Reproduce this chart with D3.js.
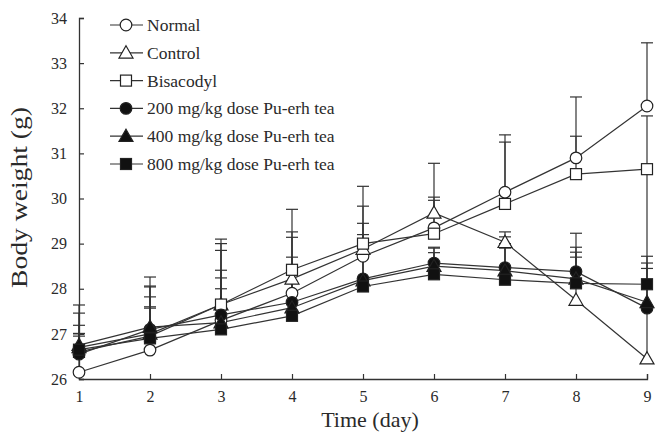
<!DOCTYPE html>
<html>
<head>
<meta charset="utf-8">
<script src="https://cdn.jsdelivr.net/npm/d3@7"></script>
<style>
  body { margin: 0; background: #fff; }
  svg { display: block; }
</style>
</head>
<body>
<div id="chart"></div>
<script>
// Body weight over time, six groups, mean with upper SD bar
var days = [1, 2, 3, 4, 5, 6, 7, 8, 9];
var yTicks = [26, 27, 28, 29, 30, 31, 32, 33, 34];

var seriesNames = ["Normal", "Control", "Bisacodyl",
    "200 mg/kg dose Pu-erh tea", "400 mg/kg dose Pu-erh tea", "800 mg/kg dose Pu-erh tea"];
var seriesSymbols = ["circle", "triangle", "square", "circle", "triangle", "square"];
var seriesFilled = [false, false, false, true, true, true];

var normalMean    = [26.15, 26.64, 27.30, 27.90, 28.72, 29.35, 30.14, 30.90, 32.05];
var controlMean   = [26.70, 27.00, 27.65, 28.22, 28.88, 29.68, 29.03, 27.75, 26.45];
var bisacodylMean = [26.60, 26.95, 27.65, 28.42, 29.00, 29.22, 29.88, 30.54, 30.65];
var dose200Mean   = [26.55, 27.10, 27.42, 27.70, 28.22, 28.57, 28.47, 28.38, 27.57];
var dose400Mean   = [26.75, 27.15, 27.25, 27.58, 28.18, 28.50, 28.40, 28.22, 27.70];
var dose800Mean   = [26.65, 26.90, 27.10, 27.40, 28.05, 28.32, 28.20, 28.12, 28.10];

var normalSD    = [0.85, 0.93, 1.55, 1.24, 1.11, 0.68, 1.27, 1.35, 1.40];
var controlSD   = [0.94, 1.26, 1.45, 1.54, 1.39, 1.10, 0.23, 1.48, 4.15];
var bisacodylSD = [0.86, 1.11, 1.35, 0.84, 0.45, 0.74, 1.37, 0.84, 1.18];
var dose200SD   = [0.64, 0.94, 0.99, 1.00, 0.98, 0.35, 0.68, 0.54, 1.15];
var dose400SD   = [0.26, 0.67, 0.99, 0.92, 0.82, 0.40, 0.60, 0.59, 0.87];
var dose800SD   = [0.30, 0.70, 0.90, 0.90, 0.85, 0.48, 0.70, 0.58, 0.35];

var means = [normalMean, controlMean, bisacodylMean, dose200Mean, dose400Mean, dose800Mean];
var sds = [normalSD, controlSD, bisacodylSD, dose200SD, dose400SD, dose800SD];

var W = 662, H = 436;
var margin = { top: 18, right: 15, bottom: 57, left: 79 };
var width = W - margin.left - margin.right;
var height = H - margin.top - margin.bottom;

var serif = "'Liberation Serif', 'Times New Roman', serif";
var ink = "#333";

var svg = d3.select("#chart").append("svg")
    .attr("width", W)
    .attr("height", H)
    .append("g")
    .attr("transform", "translate(" + margin.left + "," + margin.top + ")");

var x = d3.scaleLinear().domain([1, 9]).range([0, width]);
var y = d3.scaleLinear().domain([26, 34]).range([height, 0]);

// Axes (ticks point inward)
var xAxis = svg.append("g")
    .attr("transform", "translate(0," + height + ")")
    .call(d3.axisBottom(x).tickValues(days).tickSize(-5).tickSizeOuter(-5).tickPadding(12).tickFormat(d3.format("d")));
var yAxis = svg.append("g")
    .call(d3.axisLeft(y).tickValues(yTicks).tickSize(-5).tickSizeOuter(-5).tickPadding(12).tickFormat(d3.format("d")));

[xAxis, yAxis].forEach(function (g) {
    g.select(".domain").attr("stroke", ink).attr("stroke-width", 1.3);
    g.selectAll(".tick line").attr("stroke", ink).attr("stroke-width", 1.2);
    g.selectAll(".tick text")
        .style("font-family", serif)
        .style("font-size", "16px")
        .attr("fill", "#2a2a2a");
});

// Axis titles
svg.append("text")
    .attr("x", 291).attr("y", height + 48)
    .attr("text-anchor", "middle")
    .style("font-family", serif)
    .style("font-size", "22px")
    .attr("fill", "#2a2a2a")
    .text("Time (day)");

svg.append("text")
    .attr("transform", "translate(-52," + (height / 2 - 1) + ") rotate(-90) scale(1.2,1)")
    .attr("text-anchor", "middle")
    .style("font-family", serif)
    .style("font-size", "23px")
    .attr("fill", "#2a2a2a")
    .text("Body weight (g)");

// Marker helper
function drawMarker(g, kind, filled, cx, cy) {
    var fill = filled ? "#111" : "#fff";
    if (kind === "circle") {
        g.append("circle").attr("cx", cx).attr("cy", cy).attr("r", 5.8)
            .attr("fill", fill).attr("stroke", "#222").attr("stroke-width", 1.2);
    } else if (kind === "square") {
        g.append("rect").attr("x", cx - 5.5).attr("y", cy - 5.5)
            .attr("width", 11).attr("height", 11)
            .attr("fill", fill).attr("stroke", "#222").attr("stroke-width", 1.2);
    } else {
        var s = 7;
        g.append("path")
            .attr("d", "M" + cx + "," + (cy - s) + "L" + (cx + s) + "," + (cy + s * 0.75) +
                "L" + (cx - s) + "," + (cy + s * 0.75) + "Z")
            .attr("fill", fill).attr("stroke", "#222").attr("stroke-width", 1.2);
    }
}

// Error bars (upper only)
var capW = 6;
means.forEach(function (m, si) {
    var g = svg.append("g");
    m.forEach(function (v, i) {
        var top = v + sds[si][i];
        g.append("line")
            .attr("x1", x(days[i])).attr("x2", x(days[i]))
            .attr("y1", y(v)).attr("y2", y(top))
            .attr("stroke", ink).attr("stroke-width", 1.2);
        g.append("line")
            .attr("x1", x(days[i]) - capW).attr("x2", x(days[i]) + capW)
            .attr("y1", y(top)).attr("y2", y(top))
            .attr("stroke", ink).attr("stroke-width", 1.2);
    });
});

// Lines
var line = d3.line()
    .x(function (d, i) { return x(days[i]); })
    .y(function (d) { return y(d); });

means.forEach(function (m) {
    svg.append("path")
        .datum(m)
        .attr("d", line)
        .attr("fill", "none")
        .attr("stroke", ink)
        .attr("stroke-width", 1.2);
});

// Markers
means.forEach(function (m, si) {
    var g = svg.append("g");
    m.forEach(function (v, i) {
        drawMarker(g, seriesSymbols[si], seriesFilled[si], x(days[i]), y(v));
    });
});

// Legend
var legend = svg.append("g").attr("transform", "translate(31,7)");
seriesNames.forEach(function (name, i) {
    var ly = i * 27.8;
    legend.append("line")
        .attr("x1", 0).attr("x2", 33)
        .attr("y1", ly).attr("y2", ly)
        .attr("stroke", ink).attr("stroke-width", 1.2);
    drawMarker(legend, seriesSymbols[i], seriesFilled[i], 16, ly);
    legend.append("text")
        .attr("x", 37).attr("y", ly + 6)
        .style("font-family", serif)
        .style("font-size", "17.5px")
        .attr("fill", "#2a2a2a")
        .text(name);
});
</script>
</body>
</html>
